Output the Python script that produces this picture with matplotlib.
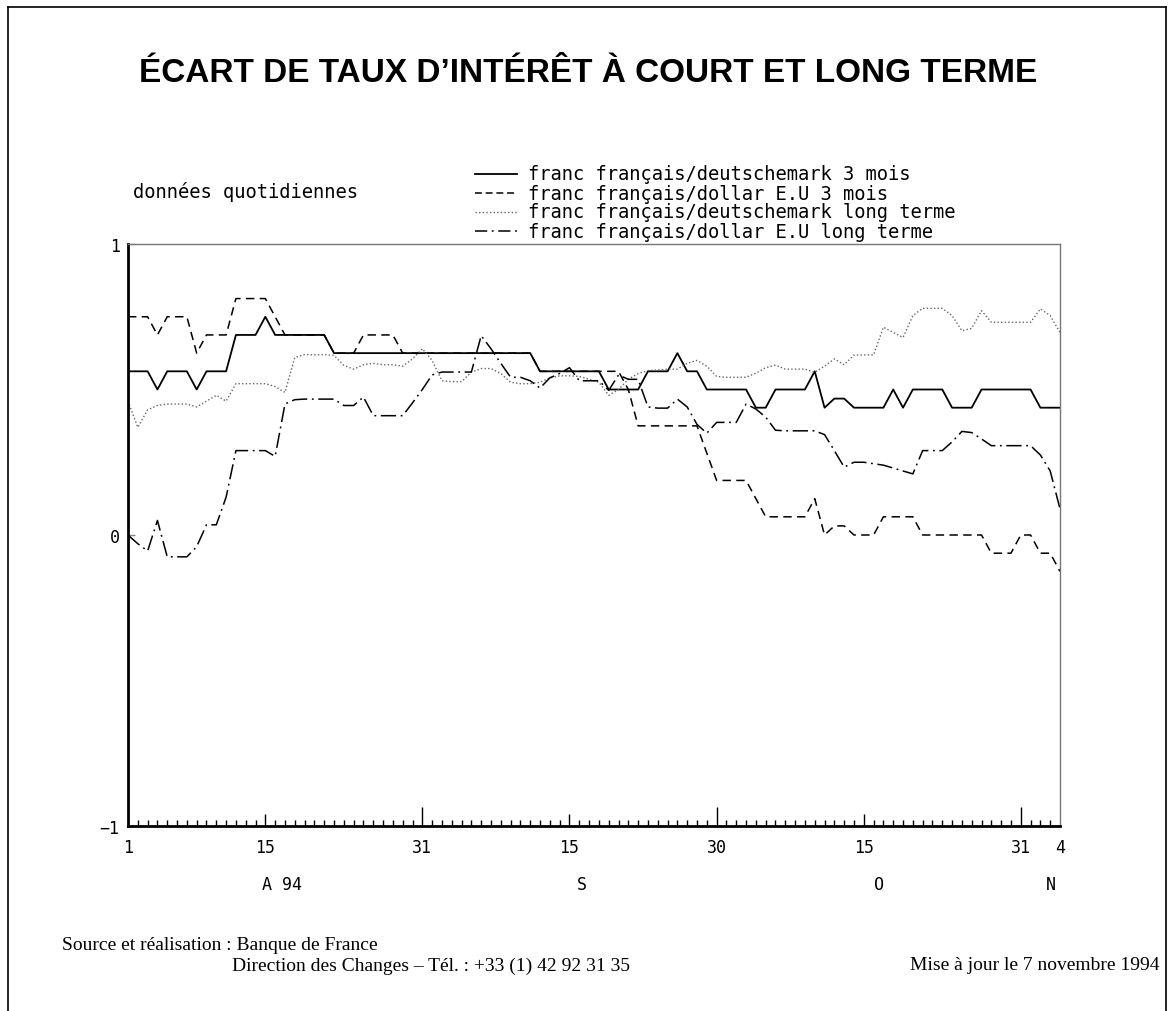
import numpy as np
import pandas as pd
import matplotlib
matplotlib.use("Agg")
import matplotlib.pyplot as plt
import matplotlib.dates as mdates
from matplotlib.lines import Line2D

# ---------------- data ----------------
start_date = "1994-08-01"
end_date = "1994-11-04"

# franc français / deutschemark 3 mois (daily, calendar days)
frf_dem_3m = [
    0.5625, 0.5625, 0.5625, 0.5, 0.5625, 0.5625, 0.5625, 0.5, 0.5625, 0.5625,
    0.5625, 0.6875, 0.6875, 0.6875, 0.75, 0.6875, 0.6875, 0.6875, 0.6875, 0.6875,
    0.6875, 0.625, 0.625, 0.625, 0.625, 0.625, 0.625, 0.625, 0.625, 0.625,
    0.625, 0.625, 0.625, 0.625, 0.625, 0.625, 0.625, 0.625, 0.625, 0.625,
    0.625, 0.625, 0.5625, 0.5625, 0.5625, 0.5625, 0.5625, 0.5625, 0.5625, 0.5,
    0.5, 0.5, 0.5, 0.5625, 0.5625, 0.5625, 0.625, 0.5625, 0.5625, 0.5,
    0.5, 0.5, 0.5, 0.5, 0.4375, 0.4375, 0.5, 0.5, 0.5, 0.5,
    0.5625, 0.4375, 0.46875, 0.46875, 0.4375, 0.4375, 0.4375, 0.4375, 0.5, 0.4375,
    0.5, 0.5, 0.5, 0.5, 0.4375, 0.4375, 0.4375, 0.5, 0.5, 0.5,
    0.5, 0.5, 0.5, 0.4375, 0.4375, 0.4375,
]

# franc français / dollar E.U 3 mois
frf_usd_3m = [
    0.75, 0.75, 0.75, 0.6875, 0.75, 0.75, 0.75, 0.625, 0.6875, 0.6875,
    0.6875, 0.8125, 0.8125, 0.8125, 0.8125, 0.75, 0.6875, 0.6875, 0.6875, 0.6875,
    0.6875, 0.625, 0.625, 0.625, 0.6875, 0.6875, 0.6875, 0.6875, 0.625, 0.625,
    0.625, 0.625, 0.625, 0.625, 0.625, 0.625, 0.625, 0.625, 0.625, 0.625,
    0.625, 0.625, 0.5625, 0.5625, 0.5625, 0.5625, 0.5625, 0.5625, 0.5625, 0.5625,
    0.5625, 0.5, 0.375, 0.375, 0.375, 0.375, 0.375, 0.375, 0.375, 0.28125,
    0.1875, 0.1875, 0.1875, 0.1875, 0.125, 0.0625, 0.0625, 0.0625, 0.0625, 0.0625,
    0.125, 0.0, 0.03125, 0.03125, 0.0, 0.0, 0.0, 0.0625, 0.0625, 0.0625,
    0.0625, 0.0, 0.0, 0.0, 0.0, 0.0, 0.0, 0.0, -0.0625, -0.0625,
    -0.0625, 0.0, 0.0, -0.0625, -0.0625, -0.125,
]

# franc français / deutschemark long terme
frf_dem_lt = [
    0.46, 0.37, 0.43, 0.445, 0.45, 0.45, 0.45, 0.44, 0.46, 0.48,
    0.46, 0.52, 0.52, 0.52, 0.52, 0.51, 0.49, 0.61, 0.62, 0.619,
    0.62, 0.617, 0.583, 0.57, 0.585, 0.59, 0.585, 0.585, 0.58, 0.605,
    0.64, 0.60, 0.53, 0.527, 0.527, 0.56, 0.572, 0.572, 0.555, 0.525,
    0.52, 0.52, 0.525, 0.54, 0.547, 0.547, 0.545, 0.535, 0.525, 0.48,
    0.50, 0.535, 0.555, 0.565, 0.567, 0.57, 0.57, 0.59, 0.60, 0.58,
    0.545, 0.542, 0.542, 0.542, 0.556, 0.575, 0.584, 0.57, 0.57, 0.57,
    0.559, 0.58, 0.605, 0.585, 0.618, 0.619, 0.619, 0.714, 0.696, 0.679,
    0.754, 0.779, 0.779, 0.779, 0.754, 0.702, 0.71, 0.771, 0.731, 0.731,
    0.731, 0.731, 0.731, 0.777, 0.754, 0.696,
]

# franc français / dollar E.U long terme
frf_usd_lt = [
    0.0, -0.03, -0.055, 0.05, -0.075, -0.075, -0.075, -0.04, 0.035, 0.035,
    0.13, 0.29, 0.29, 0.29, 0.29, 0.27, 0.45, 0.465, 0.467, 0.467,
    0.467, 0.467, 0.445, 0.445, 0.474, 0.41, 0.41, 0.41, 0.41, 0.454,
    0.50, 0.55, 0.56, 0.56, 0.56, 0.56, 0.685, 0.64, 0.59, 0.542,
    0.542, 0.53, 0.505, 0.54, 0.555, 0.575, 0.53, 0.53, 0.53, 0.497,
    0.55, 0.535, 0.535, 0.44, 0.436, 0.436, 0.467, 0.44, 0.38, 0.35,
    0.387, 0.387, 0.387, 0.45, 0.433, 0.405, 0.36, 0.358, 0.358, 0.358,
    0.358, 0.345, 0.29, 0.233, 0.25, 0.25, 0.245, 0.24, 0.23, 0.22,
    0.21, 0.29, 0.29, 0.29, 0.32, 0.356, 0.352, 0.33, 0.307, 0.307,
    0.307, 0.307, 0.307, 0.275, 0.22, 0.09,
]

series_labels = [
    "franc français/deutschemark 3 mois",
    "franc français/dollar E.U 3 mois",
    "franc français/deutschemark long terme",
    "franc français/dollar E.U long terme",
]

tick_dates = ["1994-08-01", "1994-08-15", "1994-08-31", "1994-09-15",
              "1994-09-30", "1994-10-15", "1994-10-31", "1994-11-04"]
tick_labels = ["1", "15", "31", "15", "30", "15", "31", "4"]
month_labels = ["A 94", "S", "O", "N"]
month_label_dates = ["1994-08-14 17:00", "1994-09-16 07:00",
                     "1994-10-16 14:00", "1994-11-03 02:00"]
y_ticks = [-1, 0, 1]
y_tick_labels = ["\u22121", "0", "1"]

title = "ÉCART DE TAUX D\u2019INTÉRÊT À COURT ET LONG TERME"
subtitle = "données quotidiennes"
source1 = "Source et réalisation : Banque de France"
source2 = "Direction des Changes \u2013 Tél. : +33 (1) 42 92 31 35"
update = "Mise à jour le 7 novembre 1994"

# ---------------- figure ----------------
W, H = 1175, 1012
fig = plt.figure(figsize=(W / 100, H / 100), dpi=100, facecolor="white")


def fx(px):
    return px / W


def fy(py):
    return 1 - py / H


MONO = "DejaVu Sans Mono"

ax = fig.add_axes([fx(128), fy(827), (1060 - 128) / W, (827 - 245) / H])

dates = pd.date_range(start_date, end_date, freq="D")

styles = [
    dict(color="black", lw=1.3, ls="-"),
    dict(color="black", lw=1.1, ls=(0, (5.5, 3.5))),
    dict(color="#666666", lw=1.0, ls=(0, (1, 1.6))),
    dict(color="black", lw=1.1, ls=(0, (10, 3, 1.2, 3))),
]
all_series = [frf_dem_3m, frf_usd_3m, frf_dem_lt, frf_usd_lt]
for vals, st in zip(all_series, styles):
    ax.plot(dates, vals, **st)

ax.set_xlim(pd.Timestamp(start_date), pd.Timestamp(end_date))
ax.set_ylim(-1, 1)

# spines
for s in ["left", "bottom"]:
    ax.spines[s].set_linewidth(2.0)
    ax.spines[s].set_color("black")
for s in ["top", "right"]:
    ax.spines[s].set_linewidth(1.0)
    ax.spines[s].set_color("#777777")

# x ticks
ax.set_xticks([pd.Timestamp(d) for d in tick_dates])
ax.set_xticklabels(tick_labels, fontfamily=MONO, fontsize=12)
ax.xaxis.set_minor_locator(mdates.DayLocator())
ax.tick_params(axis="x", which="major", direction="in", length=8.5, width=1.0,
               pad=9, color="black")
ax.tick_params(axis="x", which="minor", direction="in", length=4.3, width=1.0,
               color="black")
major_lengths = [0, 8.5, 14, 8.5, 14, 8.5, 14, 0]
for t, L in zip(ax.xaxis.get_major_ticks(), major_lengths):
    t.tick1line.set_markersize(L)

# y ticks
ax.set_yticks(y_ticks)
ax.set_yticklabels(y_tick_labels, fontfamily=MONO, fontsize=12)
ax.tick_params(axis="y", direction="in", length=5, width=1.0, color="#888888",
               pad=6)

# month labels
xt = ax.get_xaxis_transform()
for lab, d in zip(month_labels, month_label_dates):
    ha = "left" if len(lab) > 1 else "center"
    ax.text(pd.Timestamp(d), -0.0997, lab, transform=xt, ha=ha, va="center",
            fontfamily=MONO, fontsize=12)

# title
fig.text(fx(588), fy(73), title, ha="center", va="center",
         fontfamily="Liberation Sans", fontweight="bold", fontsize=24)

# subtitle
fig.text(fx(133), fy(192), subtitle, ha="left", va="center",
         fontfamily=MONO, fontsize=13.5)

# legend (manual)
rows = [175, 194, 213, 232]
leg_styles = [
    dict(color="black", lw=1.3, ls="-"),
    dict(color="black", lw=1.1, ls=(0, (4.5, 2.5))),
    dict(color="#666666", lw=1.0, ls=(0, (1, 1.6))),
    dict(color="black", lw=1.1, ls=(0, (8, 3, 1.2, 3))),
]
for y, st, lab in zip(rows, leg_styles, series_labels):
    fig.add_artist(Line2D([fx(475), fx(517)], [fy(y), fy(y)],
                          transform=fig.transFigure, **st))
    fig.text(fx(528), fy(y), lab, ha="left", va="center",
             fontfamily=MONO, fontsize=13.5)

# footer
fig.text(fx(62), fy(945), source1, ha="left", va="center",
         fontfamily="Liberation Serif", fontsize=14)
fig.text(fx(232), fy(966), source2, ha="left", va="center",
         fontfamily="Liberation Serif", fontsize=14)
fig.text(fx(1160), fy(966), update, ha="right", va="center",
         fontfamily="Liberation Serif", fontsize=14)

# outer frame (left, top, right)
frame_kw = dict(transform=fig.transFigure, color="black", lw=1.2)
fig.add_artist(Line2D([fx(8), fx(8)], [fy(8), 0], **frame_kw))
fig.add_artist(Line2D([fx(8), fx(1166)], [fy(8), fy(8)], **frame_kw))
fig.add_artist(Line2D([fx(1166), fx(1166)], [fy(8), 0], **frame_kw))

fig.savefig("out.png", dpi=100, facecolor="white")
